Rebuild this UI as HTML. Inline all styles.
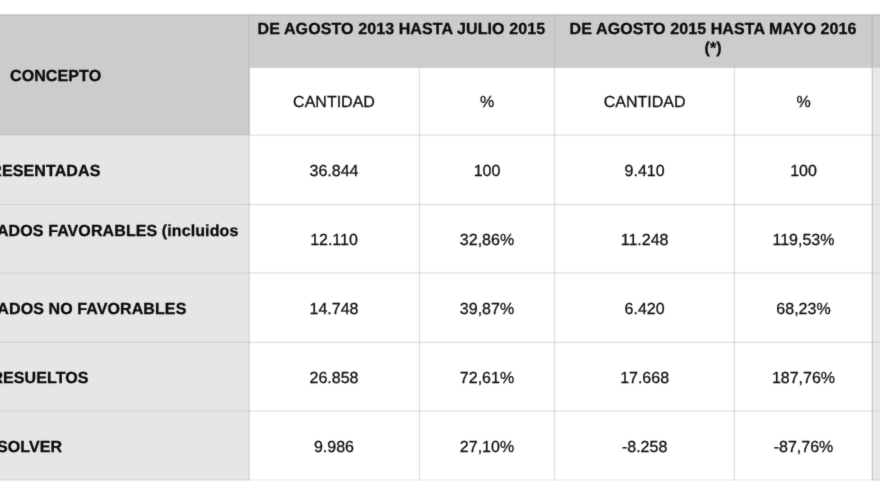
<!DOCTYPE html>
<html lang="es">
<head>
<meta charset="utf-8">
<title>Tabla</title>
<style>
html,body{margin:0;padding:0;background:#fff;}
body{width:880px;height:495px;position:relative;overflow:hidden;font-family:"Liberation Sans",Arial,Helvetica,sans-serif;font-size:16px;line-height:18px;color:#0c0c0c;}
.g{position:absolute;left:0;top:0;}
.t{position:absolute;white-space:nowrap;line-height:18px;height:18px;font-size:16.0px;text-rendering:geometricPrecision;}
.b{font-weight:bold;color:#0a0a0a;-webkit-text-stroke:0.3px #0a0a0a;letter-spacing:0.1px;}
.n{-webkit-text-stroke:0.25px #0c0c0c;}
#w{position:absolute;left:0;top:0;width:880px;height:495px;overflow:hidden;background:#fff;filter:url(#soft);}
</style>
</head>
<body>
<svg width="0" height="0" style="position:absolute"><filter id="soft" x="0" y="0" width="100%" height="100%" color-interpolation-filters="sRGB"><feConvolveMatrix order="3" kernelMatrix="0.0121 0.0858 0.0121 0.0858 0.6084 0.0858 0.0121 0.0858 0.0121" edgeMode="duplicate" preserveAlpha="true"/></filter></svg>
<div id="w">
<svg class="g" width="880" height="495" viewBox="0 0 880 495">
<rect x="0" y="14.2" width="880" height="53.70" fill="#cccccc"/>
<rect x="0" y="30" width="249.8" height="105.15" fill="#cccccc"/>
<rect x="0" y="135.15" width="249.8" height="345.45" fill="#e6e6e6"/>
<rect x="872.0" y="67.9" width="8.0" height="412.70" fill="#e8e8e8"/>
<rect x="0" y="14.7" width="880" height="1" fill="#000" fill-opacity=".07"/>
<rect x="0" y="134.50" width="249.8" height="1.3" fill="#000" fill-opacity=".07"/>
<rect x="249.8" y="134.50" width="622.20" height="1.3" fill="#000" fill-opacity=".125"/>
<rect x="872.0" y="134.50" width="8.00" height="1.3" fill="#000" fill-opacity=".07"/>
<rect x="0" y="203.85" width="249.8" height="1.3" fill="#000" fill-opacity=".07"/>
<rect x="249.8" y="203.85" width="622.20" height="1.3" fill="#000" fill-opacity=".125"/>
<rect x="872.0" y="203.85" width="8.00" height="1.3" fill="#000" fill-opacity=".07"/>
<rect x="0" y="272.35" width="249.8" height="1.3" fill="#000" fill-opacity=".07"/>
<rect x="249.8" y="272.35" width="622.20" height="1.3" fill="#000" fill-opacity=".125"/>
<rect x="872.0" y="272.35" width="8.00" height="1.3" fill="#000" fill-opacity=".07"/>
<rect x="0" y="341.75" width="249.8" height="1.3" fill="#000" fill-opacity=".07"/>
<rect x="249.8" y="341.75" width="622.20" height="1.3" fill="#000" fill-opacity=".125"/>
<rect x="872.0" y="341.75" width="8.00" height="1.3" fill="#000" fill-opacity=".07"/>
<rect x="0" y="410.40" width="249.8" height="1.3" fill="#000" fill-opacity=".07"/>
<rect x="249.8" y="410.40" width="622.20" height="1.3" fill="#000" fill-opacity=".125"/>
<rect x="872.0" y="410.40" width="8.00" height="1.3" fill="#000" fill-opacity=".07"/>
<rect x="0" y="479.20" width="249.8" height="1.3" fill="#000" fill-opacity=".05"/>
<rect x="249.8" y="479.20" width="622.20" height="1.3" fill="#000" fill-opacity=".07"/>
<rect x="872.0" y="479.20" width="8.00" height="1.3" fill="#000" fill-opacity=".05"/>
<rect x="418.85" y="67.9" width="1.3" height="412.70" fill="#000" fill-opacity=".125"/>
<rect x="553.85" y="67.9" width="1.3" height="412.70" fill="#000" fill-opacity=".125"/>
<rect x="733.75" y="67.9" width="1.3" height="412.70" fill="#000" fill-opacity=".125"/>
<rect x="248.00" y="14.2" width="1.2" height="53.70" fill="#000" fill-opacity=".06"/>
<rect x="553.90" y="14.2" width="1.2" height="53.70" fill="#000" fill-opacity=".06"/>
<rect x="248.1" y="67.9" width="1.7" height="412.70" fill="#000" fill-opacity=".06"/>
<rect x="871.60" y="14.2" width="1.2" height="53.70" fill="#000" fill-opacity=".09"/>
<rect x="871.60" y="67.9" width="1.2" height="412.70" fill="#000" fill-opacity=".17"/>
</svg>
<div class="t b" style="left:10.00px;top:68px;">CONCEPTO</div>
<div class="t b" style="left:201.40px;width:400px;text-align:center;top:21px;">DE AGOSTO 2013 HASTA JULIO 2015</div>
<div class="t b" style="left:513.10px;width:400px;text-align:center;top:21px;">DE AGOSTO 2015 HASTA MAYO 2016</div>
<div class="t b" style="left:513.20px;width:400px;text-align:center;top:40px;">(*)</div>
<div class="t n" style="left:134.00px;width:400px;text-align:center;top:94px;">CANTIDAD</div>
<div class="t n" style="left:287.00px;width:400px;text-align:center;top:94px;">%</div>
<div class="t n" style="left:444.60px;width:400px;text-align:center;top:94px;">CANTIDAD</div>
<div class="t n" style="left:603.50px;width:400px;text-align:center;top:94px;">%</div>
<div class="t b" style="left:-299.60px;width:400px;text-align:right;top:163px;">RESENTADAS</div>
<div class="t b" style="left:-161.60px;width:400px;text-align:right;top:223px;">ADOS FAVORABLES (incluidos</div>
<div class="t b" style="left:-213.60px;width:400px;text-align:right;top:301px;">ADOS NO FAVORABLES</div>
<div class="t b" style="left:-311.40px;width:400px;text-align:right;top:370px;">RESUELTOS</div>
<div class="t b" style="left:-337.80px;width:400px;text-align:right;top:439px;">SOLVER</div>
<div class="t n" style="left:134.00px;width:400px;text-align:center;top:163px;">36.844</div>
<div class="t n" style="left:287.00px;width:400px;text-align:center;top:163px;">100</div>
<div class="t n" style="left:444.60px;width:400px;text-align:center;top:163px;">9.410</div>
<div class="t n" style="left:603.50px;width:400px;text-align:center;top:163px;">100</div>
<div class="t n" style="left:134.00px;width:400px;text-align:center;top:232px;">12.110</div>
<div class="t n" style="left:287.00px;width:400px;text-align:center;top:232px;">32,86%</div>
<div class="t n" style="left:444.60px;width:400px;text-align:center;top:232px;">11.248</div>
<div class="t n" style="left:603.50px;width:400px;text-align:center;top:232px;">119,53%</div>
<div class="t n" style="left:134.00px;width:400px;text-align:center;top:301px;">14.748</div>
<div class="t n" style="left:287.00px;width:400px;text-align:center;top:301px;">39,87%</div>
<div class="t n" style="left:444.60px;width:400px;text-align:center;top:301px;">6.420</div>
<div class="t n" style="left:603.50px;width:400px;text-align:center;top:301px;">68,23%</div>
<div class="t n" style="left:134.00px;width:400px;text-align:center;top:370px;">26.858</div>
<div class="t n" style="left:287.00px;width:400px;text-align:center;top:370px;">72,61%</div>
<div class="t n" style="left:444.60px;width:400px;text-align:center;top:370px;">17.668</div>
<div class="t n" style="left:603.50px;width:400px;text-align:center;top:370px;">187,76%</div>
<div class="t n" style="left:134.00px;width:400px;text-align:center;top:439px;">9.986</div>
<div class="t n" style="left:287.00px;width:400px;text-align:center;top:439px;">27,10%</div>
<div class="t n" style="left:444.60px;width:400px;text-align:center;top:439px;">-8.258</div>
<div class="t n" style="left:603.50px;width:400px;text-align:center;top:439px;">-87,76%</div>
</div>
</body>
</html>
